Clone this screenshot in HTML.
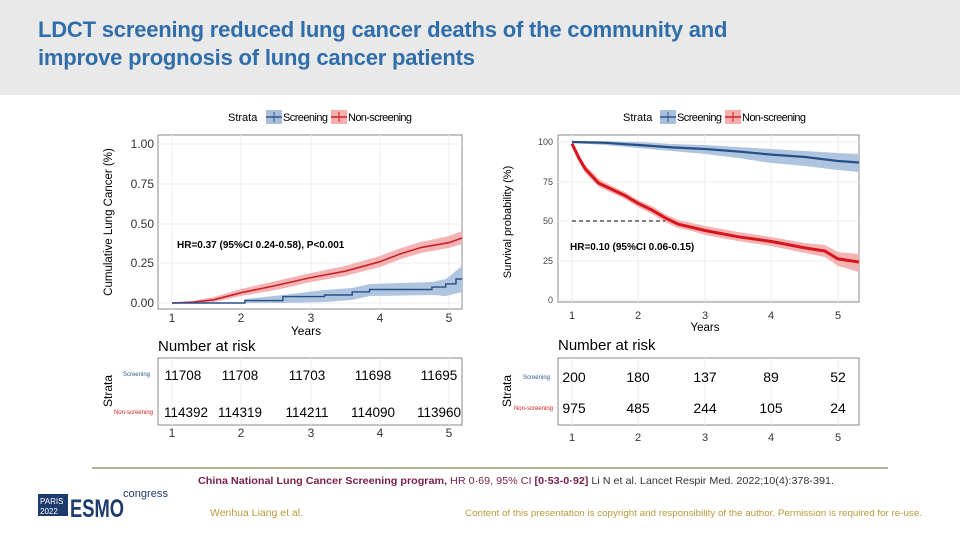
<!DOCTYPE html>
<html><head><meta charset="utf-8"><style>
body{margin:0;width:960px;height:540px;background:#fff;overflow:hidden;font-family:"Liberation Sans",sans-serif;position:relative}
.hdr{position:absolute;left:0;top:0;width:960px;height:95px;background:#e9e9e9}
.t{position:absolute;left:38px;top:16px;color:#2f6eab;font-weight:bold;font-size:22px;line-height:28px;letter-spacing:-0.2px}
</style></head><body>
<div class="hdr"></div>
<div class="t">LDCT screening reduced lung cancer deaths of the community and<br>improve prognosis of lung cancer patients</div>
<svg width="960" height="540" style="position:absolute;left:0;top:0" font-family="Liberation Sans, sans-serif">
<!-- LEFT -->
<g font-size="11">
<text x="228" y="121" fill="#000">Strata</text>
<rect x="266" y="110" width="16" height="14" fill="#a9bfd9"/><line x1="266" y1="117" x2="282" y2="117" stroke="#2a5792" stroke-width="1.5"/><line x1="274" y1="112" x2="274" y2="122" stroke="#2a5792"/>
<text x="283" y="121" textLength="45">Screening</text>
<rect x="331" y="110" width="16" height="14" fill="#f2b0b0"/><line x1="331" y1="117" x2="347" y2="117" stroke="#d42020" stroke-width="1.5"/><line x1="339" y1="112" x2="339" y2="122" stroke="#d42020"/>
<text x="348" y="121" textLength="64">Non-screening</text>
</g>
<rect x="158" y="135" width="304" height="174" fill="#fff" stroke="#888"/>
<g stroke="#ececec"><line x1="158" y1="144" x2="462" y2="144"/><line x1="158" y1="184" x2="462" y2="184"/><line x1="158" y1="224" x2="462" y2="224"/><line x1="158" y1="263" x2="462" y2="263"/><line x1="158" y1="303" x2="462" y2="303"/>
<line x1="172" y1="135" x2="172" y2="309"/><line x1="241" y1="135" x2="241" y2="309"/><line x1="311" y1="135" x2="311" y2="309"/><line x1="380" y1="135" x2="380" y2="309"/><line x1="449" y1="135" x2="449" y2="309"/></g>
<polygon points="172,303 193,301 214,297 241,289 276,281 311,273 345,266 380,256 401,248 421,242 449,236 462,231 462,244 449,248 421,253 401,259 380,267 345,276 311,282 276,290 241,296 214,302 193,303" fill="#f4b3b3"/>
<polygon points="245,299 283,295 324,290 352,288 370,284 432,282 446,279 462,266 462,292 446,296 432,295 370,296 352,300 324,302 283,303 245,303" fill="#afc4de"/>
<polyline points="172,303 192.8,302.2 213.6,299.8 241.3,292.7 276,285.5 310.6,277.6 345.3,271.2 380,261.7 400.7,253.7 421.5,247.4 449.2,242.6 462,238" fill="none" stroke="#c8202a" stroke-width="1.6"/>
<polyline points="172,303 244.8,303 244.8,300.6 282.9,300.6 282.9,296.6 324.5,296.6 324.5,295 352.2,295 352.2,291.9 369.5,291.9 369.5,289.5 431.9,289.5 431.9,287.1 445.7,287.1 445.7,283.9 456,283.9 456,279 462,279" fill="none" stroke="#274f86" stroke-width="1.4"/>
<g font-size="12" fill="#333" text-anchor="end"><text x="154" y="148">1.00</text><text x="154" y="188">0.75</text><text x="154" y="228">0.50</text><text x="154" y="267">0.25</text><text x="154" y="307">0.00</text></g>
<g font-size="12" fill="#333" text-anchor="middle"><text x="172" y="322">1</text><text x="241" y="322">2</text><text x="311" y="322">3</text><text x="380" y="322">4</text><text x="449" y="322">5</text><text x="306" y="335" font-size="12" fill="#000">Years</text>
<text x="172" y="437">1</text><text x="241" y="437">2</text><text x="311" y="437">3</text><text x="380" y="437">4</text><text x="449" y="437">5</text></g>
<text transform="translate(112,222) rotate(-90)" text-anchor="middle" font-size="11.5">Cumulative Lung Cancer (%)</text>
<text x="177" y="248" font-size="10" font-weight="bold">HR=0.37 (95%CI 0.24-0.58), P&lt;0.001</text>
<text x="158" y="351" font-size="15">Number at risk</text>
<rect x="158" y="358" width="304" height="67" fill="#fff" stroke="#888"/>
<g stroke="#eee"><line x1="172" y1="358" x2="172" y2="425"/><line x1="241" y1="358" x2="241" y2="425"/><line x1="311" y1="358" x2="311" y2="425"/><line x1="380" y1="358" x2="380" y2="425"/><line x1="449" y1="358" x2="449" y2="425"/></g>
<text x="150" y="376" font-size="6" fill="#2a5792" text-anchor="end">Screening</text>
<text x="153" y="414" font-size="6" fill="#d42020" text-anchor="end">Non-screening</text>
<g font-size="13.5" text-anchor="middle"><text x="183" y="380">11708</text><text x="240" y="380">11708</text><text x="307" y="380">11703</text><text x="373" y="380">11698</text><text x="439" y="380">11695</text>
<text x="186" y="417">114392</text><text x="240" y="417">114319</text><text x="307" y="417">114211</text><text x="373" y="417">114090</text><text x="439" y="417">113960</text></g>
<text transform="translate(112,391) rotate(-90)" text-anchor="middle" font-size="12">Strata</text>

<!-- RIGHT -->
<g font-size="11">
<text x="623" y="121">Strata</text>
<rect x="660" y="110" width="16" height="14" fill="#a9bfd9"/><line x1="660" y1="117" x2="676" y2="117" stroke="#2a5792" stroke-width="1.5"/><line x1="668" y1="112" x2="668" y2="122" stroke="#2a5792"/>
<text x="677" y="121" textLength="45">Screening</text>
<rect x="725" y="110" width="16" height="14" fill="#f2b0b0"/><line x1="725" y1="117" x2="741" y2="117" stroke="#d42020" stroke-width="1.5"/><line x1="733" y1="112" x2="733" y2="122" stroke="#d42020"/>
<text x="742" y="121" textLength="64">Non-screening</text>
</g>
<rect x="558" y="135" width="301" height="167" fill="#fff" stroke="#888"/>
<g stroke="#ececec"><line x1="558" y1="142" x2="859" y2="142"/><line x1="558" y1="182" x2="859" y2="182"/><line x1="558" y1="221" x2="859" y2="221"/><line x1="558" y1="261" x2="859" y2="261"/><line x1="558" y1="300" x2="859" y2="300"/>
<line x1="572" y1="135" x2="572" y2="302"/><line x1="638" y1="135" x2="638" y2="302"/><line x1="705" y1="135" x2="705" y2="302"/><line x1="771" y1="135" x2="771" y2="302"/><line x1="838" y1="135" x2="838" y2="302"/></g>
<polygon points="572,141 605,141 638,142 672,144 705,145 738,147 771,149 805,151 838,153 859,154 859,172 838,170 805,166 771,163 738,158 705,154 672,151 638,148 605,145 572,143" fill="#afc4de"/>
<polygon points="572,141 579,154 585,165 599,179 612,186 625,192 638,200 652,206 665,214 678,220 692,223 705,226 738,232 771,237 805,243 825,245 838,252 859,254 859,272 838,266 825,257 805,253 771,246 738,241 705,235 692,231 678,228 665,222 652,214 638,207 625,199 612,193 599,187 585,173 579,162 572,147" fill="#f4b3b3"/>
<line x1="572" y1="221" x2="665" y2="221" stroke="#000" stroke-dasharray="4,3"/>
<polyline points="572,142 605,142.8 638.5,145 671.8,147.4 705,149 738,151.5 771.5,154.6 805,157 838,161 859,162.5" fill="none" stroke="#274f86" stroke-width="2.2"/>
<polyline points="572,143.6 578.7,157.8 585.3,168.9 598.6,183.1 611.9,189.4 625.2,195.7 638.5,203.6 651.8,209.9 665.1,217.8 678.4,224.2 691.7,227.3 705,230.5 738.3,236.8 771.5,241.5 804.8,247.9 824.7,251 838,258.9 859,262" fill="none" stroke="#d8151d" stroke-width="3"/>
<g font-size="9" fill="#444" text-anchor="end"><text x="553" y="145">100</text><text x="553" y="185">75</text><text x="553" y="224">50</text><text x="553" y="264">25</text><text x="553" y="303">0</text></g>
<g font-size="11" fill="#333" text-anchor="middle"><text x="572" y="319">1</text><text x="638" y="319">2</text><text x="705" y="319">3</text><text x="771" y="319">4</text><text x="838" y="319">5</text><text x="705" y="331" font-size="11.5" fill="#000">Years</text>
<text x="572" y="441">1</text><text x="638" y="441">2</text><text x="705" y="441">3</text><text x="771" y="441">4</text><text x="838" y="441">5</text></g>
<text transform="translate(511,222) rotate(-90)" text-anchor="middle" font-size="11">Survival probability (%)</text>
<text x="570" y="250" font-size="10" font-weight="bold">HR=0.10 (95%CI 0.06-0.15)</text>
<text x="558" y="350" font-size="15">Number at risk</text>
<rect x="558" y="358" width="301" height="67" fill="#fff" stroke="#888"/>
<g stroke="#eee"><line x1="572" y1="358" x2="572" y2="425"/><line x1="638" y1="358" x2="638" y2="425"/><line x1="705" y1="358" x2="705" y2="425"/><line x1="771" y1="358" x2="771" y2="425"/><line x1="838" y1="358" x2="838" y2="425"/></g>
<text x="550" y="379" font-size="6" fill="#2a5792" text-anchor="end">Screening</text>
<text x="553" y="410" font-size="6" fill="#d42020" text-anchor="end">Non-screening</text>
<g font-size="14" text-anchor="middle"><text x="574" y="382">200</text><text x="638" y="382">180</text><text x="705" y="382">137</text><text x="771" y="382">89</text><text x="838" y="382">52</text>
<text x="574" y="413">975</text><text x="638" y="413">485</text><text x="705" y="413">244</text><text x="771" y="413">105</text><text x="838" y="413">24</text></g>
<text transform="translate(511,391) rotate(-90)" text-anchor="middle" font-size="12">Strata</text>

<!-- footer -->
<line x1="92" y1="468" x2="888" y2="468" stroke="#9b9a73" stroke-width="1.5"/>
<text x="198" y="484" font-size="10.5" textLength="636" lengthAdjust="spacingAndGlyphs"><tspan fill="#7a1d4a" font-weight="bold">China National Lung Cancer Screening program, </tspan><tspan fill="#7a1d4a">HR 0·69, 95% CI </tspan><tspan fill="#7a1d4a" font-weight="bold">[0·53-0·92]</tspan><tspan fill="#333"> Li N et al. Lancet Respir Med. 2022;10(4):378-391.</tspan></text>
<rect x="38" y="494" width="30" height="22" fill="#1e3b6e"/>
<text x="40" y="504" font-size="8" fill="#fff">PARIS</text><text x="40" y="514" font-size="8" fill="#fff">2022</text>
<text x="70" y="517" font-size="25" font-weight="bold" fill="#1e3b6e" textLength="54" lengthAdjust="spacingAndGlyphs">ESMO</text>
<text x="123" y="497" font-size="11" fill="#1e3b6e" textLength="45" lengthAdjust="spacingAndGlyphs">congress</text>
<text x="210" y="516" font-size="10" fill="#b99a3a" textLength="93" lengthAdjust="spacingAndGlyphs">Wenhua Liang et al.</text>
<text x="465" y="516" font-size="9.5" fill="#b99a3a" textLength="457" lengthAdjust="spacingAndGlyphs">Content of this presentation  is copyright and responsibility  of the author. Permission is required  for re-use.</text>
</svg>
</body></html>
